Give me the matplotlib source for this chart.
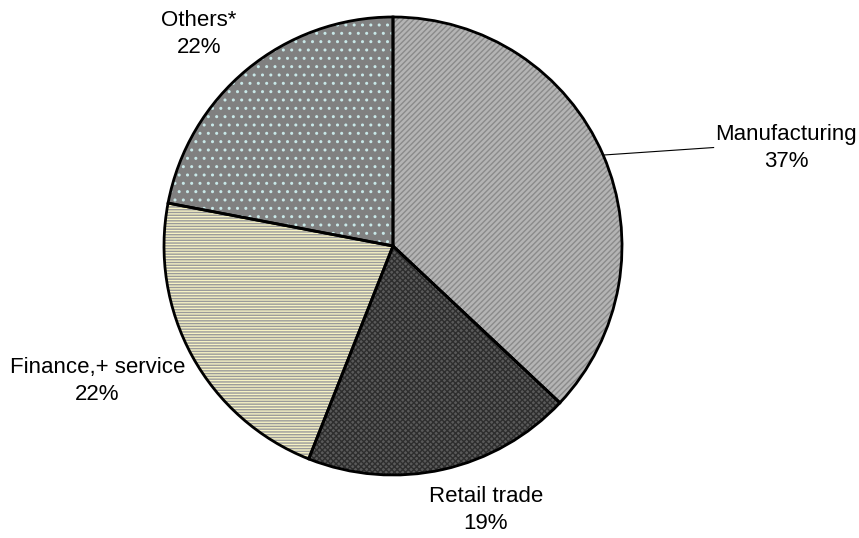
import numpy as np
import matplotlib.pyplot as plt

plt.rcParams['font.family'] = ['Liberation Sans', 'DejaVu Sans']
plt.rcParams['hatch.linewidth'] = 1.0

# sector shares (percent), drawn clockwise from 12 o'clock
sectors = ["Manufacturing", "Retail trade", "Finance,+ service", "Others*"]
shares = [37, 19, 22, 22]

face_colors = ["#b4b4b4", "#5a5a5a", "#f6f2c4", "#808080"]
hatch_colors = ["#8a8a8a", "#2e2e2e", "#9a9a9a", "#c8e8e8"]
hatches = ["//////", "xxxxxx", "------", ".."]

# label anchor points in axes data units (pie radius = 1)
label_pos = [(1.716, 0.428), (0.406, -1.153), (-1.29, -0.59), (-0.847, 0.926)]

fig = plt.figure(figsize=(8.59, 5.38), dpi=100)
ax = fig.add_axes([0, 0, 1, 1])

# hatched fills first, then a plain black outline on top
wedges, _ = ax.pie(shares, startangle=90, counterclock=False, radius=1,
                   center=(0, 0), frame=True,
                   wedgeprops=dict(linewidth=0))
for w, fc, hc, h in zip(wedges, face_colors, hatch_colors, hatches):
    w.set_facecolor(fc)
    w.set_edgecolor(hc)
    w.set_hatch(h)

outline, _ = ax.pie(shares, startangle=90, counterclock=False, radius=1,
                    center=(0, 0), frame=True,
                    wedgeprops=dict(fill=False, edgecolor="black", linewidth=2))

total = sum(shares)
for name, val, (tx, ty) in zip(sectors, shares, label_pos):
    ax.text(tx, ty, f"{name}\n{round(100 * val / total)}%", ha="center",
            va="center", fontsize=16, linespacing=1.4, color="black")

# leader line for the manufacturing label
w0 = outline[0]
mid = np.deg2rad((w0.theta1 + w0.theta2) / 2)
ax.plot([np.cos(mid), 1.40], [np.sin(mid), 0.43], color="black", lw=0.8)

ax.set_xlim(-393 / 229, (859 - 393) / 229)
ax.set_ylim(-(538 - 246) / 229, 246 / 229)
ax.set_aspect("auto")
ax.axis("off")

fig.savefig("out.png", dpi=100)
